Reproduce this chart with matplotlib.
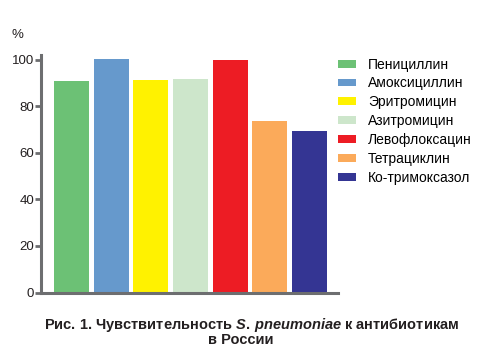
import matplotlib
matplotlib.use("Agg")
import matplotlib.pyplot as plt

plt.rcParams['font.family'] = ['Liberation Sans', 'DejaVu Sans']
plt.rcParams['mathtext.fontset'] = 'custom'
plt.rcParams['mathtext.rm'] = 'Liberation Sans:bold'
plt.rcParams['mathtext.it'] = 'Liberation Sans:italic:bold'

drugs = ["Пенициллин", "Амоксициллин", "Эритромицин", "Азитромицин",
         "Левофлоксацин", "Тетрациклин", "Ко-тримоксазол"]
values = [91, 100.4, 91.4, 91.8, 100, 73.8, 69.5]
colors = ["#6cc175", "#6699cc", "#fff200", "#cde6cb", "#ed1c24", "#fbaa5a", "#343593"]
yticks = [0, 20, 40, 60, 80, 100]

fig = plt.figure(figsize=(4.79, 3.51), dpi=100)
ax = fig.add_axes([41/479, 1-292.5/351, 297/479, (292.5-55)/351])

bars = ax.bar(range(len(values)), values, width=0.88, color=colors)

gray = "#6d6e70"
ax.set_xlim(-0.77, 6.72)
ax.set_ylim(0, 102)
ax.set_yticks(yticks)
ax.set_xticks([])
for s in ["top", "right"]:
    ax.spines[s].set_visible(False)
for s in ["left", "bottom"]:
    ax.spines[s].set_color(gray)
    ax.spines[s].set_linewidth(2.2)
ax.tick_params(axis="y", direction="out", length=4, width=2, color=gray,
               labelsize=9.5, pad=1, labelcolor="#231f20")

fig.text(12/479, 1-35/351, "%", fontsize=9.5, ha="left", va="center", color="#231f20")

fig.legend(bars, drugs, loc="upper left", bbox_to_anchor=(332/479, 1-52/351),
           frameon=False, fontsize=10, handlelength=1.3, handleheight=0.5,
           handletextpad=0.9, labelspacing=0.35, borderaxespad=0)

fig.text(252/479, 1-325/351,
         r"Рис. 1. Чувствительность $S.\,pneumoniae$ к антибиотикам",
         fontsize=10.5, fontweight="bold", ha="center", va="center", color="#231f20")
fig.text(241/479, 1-340/351, "в России",
         fontsize=10.5, fontweight="bold", ha="center", va="center", color="#231f20")

fig.savefig("out.png", dpi=100)
